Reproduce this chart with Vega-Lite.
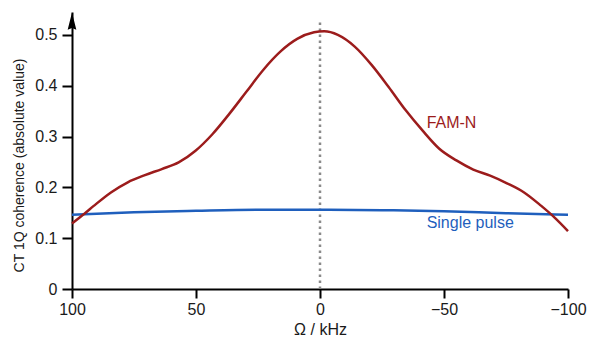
{
  "$schema": "https://vega.github.io/schema/vega-lite/v6.json",
  "width": 496,
  "height": 277,
  "autosize": "none",
  "padding": {"left": 72, "top": 12, "right": 22, "bottom": 48},
  "background": "white",
  "config": {
    "view": {"stroke": null},
    "font": "Liberation Sans",
    "axis": {
      "grid": false,
      "domainColor": "#000000",
      "domainWidth": 2,
      "tickColor": "#000000",
      "tickWidth": 2,
      "labelFontSize": 16,
      "labelColor": "#1a1a1a",
      "titleColor": "#1a1a1a",
      "titleFontWeight": "normal"
    }
  },
  "datasets": {
    "fam": [
      {"omega": 100, "value": 0.129},
      {"omega": 95, "value": 0.148},
      {"omega": 91.1, "value": 0.164},
      {"omega": 84.3, "value": 0.19},
      {"omega": 77.5, "value": 0.21},
      {"omega": 70.6, "value": 0.224},
      {"omega": 63.8, "value": 0.236},
      {"omega": 57.0, "value": 0.249},
      {"omega": 50.2, "value": 0.272},
      {"omega": 43.3, "value": 0.305},
      {"omega": 36.5, "value": 0.345},
      {"omega": 29.7, "value": 0.388},
      {"omega": 22.9, "value": 0.431},
      {"omega": 16.0, "value": 0.467},
      {"omega": 9.2, "value": 0.492},
      {"omega": 2.4, "value": 0.505},
      {"omega": -1.7, "value": 0.507},
      {"omega": -7.2, "value": 0.5},
      {"omega": -14.0, "value": 0.477},
      {"omega": -20.8, "value": 0.441},
      {"omega": -27.6, "value": 0.398},
      {"omega": -34.5, "value": 0.352},
      {"omega": -41.3, "value": 0.312},
      {"omega": -48.1, "value": 0.276},
      {"omega": -55.0, "value": 0.253},
      {"omega": -61.8, "value": 0.235},
      {"omega": -68.6, "value": 0.223},
      {"omega": -75.4, "value": 0.208},
      {"omega": -82.3, "value": 0.19},
      {"omega": -89.1, "value": 0.164},
      {"omega": -94.5, "value": 0.141},
      {"omega": -100, "value": 0.114}
    ],
    "single": [
      {"omega": 100, "value": 0.146},
      {"omega": 75, "value": 0.151},
      {"omega": 50, "value": 0.154},
      {"omega": 25, "value": 0.156},
      {"omega": 0, "value": 0.156},
      {"omega": -25, "value": 0.155},
      {"omega": -50, "value": 0.153},
      {"omega": -75, "value": 0.149},
      {"omega": -100, "value": 0.146}
    ],
    "guide": [
      {"omega": 0, "value": 0, "hi": 0.531}
    ],
    "labels": [
      {"omega": -43, "value": 0.327, "label": "FAM-N"},
      {"omega": -43, "value": 0.129, "label": "Single pulse"}
    ],
    "arrow": [
      {"omega": 100, "value": 0.527}
    ]
  },
  "encoding": {
    "x": {
      "field": "omega",
      "type": "quantitative",
      "scale": {"domain": [-100, 100], "reverse": true, "nice": false, "zero": false},
      "axis": {
        "values": [100, 50, 0, -50, -100],
        "title": "Ω / kHz",
        "tickSize": 9,
        "labelPadding": 16,
        "labelBaseline": "alphabetic",
        "labelFlush": false,
        "titleFontSize": 16,
        "titleY": 45,
        "titleBaseline": "alphabetic"
      }
    },
    "y": {
      "field": "value",
      "type": "quantitative",
      "scale": {"domain": [0, 0.545], "nice": false},
      "axis": {
        "values": [0, 0.1, 0.2, 0.3, 0.4, 0.5],
        "labelExpr": "datum.value == 0 ? '0' : format(datum.value, '.1f')",
        "title": "CT 1Q coherence (absolute value)",
        "tickSize": 10,
        "labelPadding": 5,
        "titleFontSize": 14,
        "titleAngle": -90,
        "titleX": -53,
        "titleY": 153,
        "titleAlign": "center",
        "titleBaseline": "middle"
      }
    }
  },
  "layer": [
    {
      "data": {"name": "guide"},
      "mark": {"type": "rule", "color": "#8a8a8a", "strokeWidth": 2.5, "strokeDash": [2.5, 3.5]},
      "encoding": {"y2": {"field": "hi"}}
    },
    {
      "data": {"name": "single"},
      "mark": {"type": "line", "color": "#1f5fbd", "strokeWidth": 2.5, "interpolate": "monotone"}
    },
    {
      "data": {"name": "fam"},
      "mark": {"type": "line", "color": "#9c1c1c", "strokeWidth": 2.5, "interpolate": "monotone"}
    },
    {
      "data": {"name": "labels"},
      "mark": {"type": "text", "align": "left", "baseline": "middle", "fontSize": 16},
      "encoding": {
        "text": {"field": "label"},
        "color": {
          "field": "label",
          "type": "nominal",
          "scale": {"domain": ["FAM-N", "Single pulse"], "range": ["#9c1c1c", "#1f5fbd"]},
          "legend": null
        }
      }
    },
    {
      "data": {"name": "arrow"},
      "mark": {"type": "point", "shape": "M0,-1L0.5,1L0,0.8L-0.5,1Z", "filled": true, "color": "#000000", "opacity": 1, "size": 300, "strokeWidth": 0}
    }
  ]
}
